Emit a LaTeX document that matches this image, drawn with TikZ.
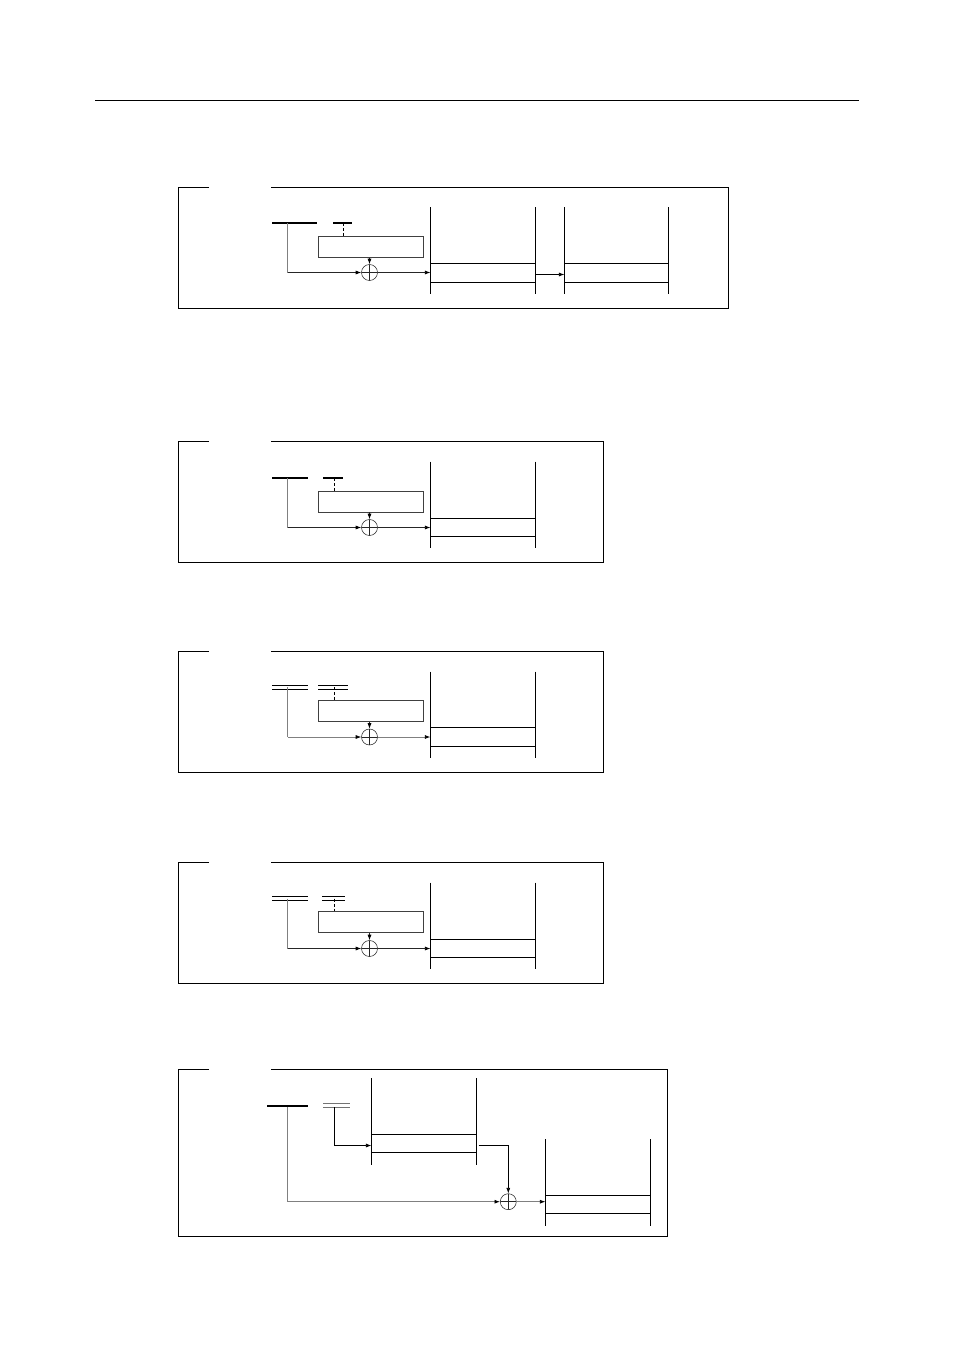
\documentclass[tikz,border=0pt]{standalone}
\usepackage{amsmath}
\usepackage{tikz}
\usetikzlibrary{arrows.meta}
\tikzset{
	framepath/.style={black, line width=0.8pt},
	stackline/.style={black, line width=0.8pt},
	feedline/.style={black!85, line width=0.7pt},
	feedfaint/.style={black!50, line width=0.8pt},
	slotbox/.style={draw=black, line width=0.7pt, inner sep=0pt, minimum width=104.5pt, minimum height=19pt},
	tablebox/.style={draw=black!75, line width=0.7pt, inner sep=0pt, minimum width=105pt, minimum height=21pt},
	xorsign/.style={draw=black!85, circle, line width=0.55pt, inner sep=0pt, minimum size=16pt,
		path picture={\draw[black!85, line width=0.55pt] (path picture bounding box.north) -- (path picture bounding box.south);
			\draw[black!85, line width=0.55pt] (path picture bounding box.west) -- (path picture bounding box.east);}},
	onebar/.style={fill=black, inner sep=0pt, minimum height=2pt},
	twobar/.style={inner sep=0pt, minimum height=3.4pt,
		path picture={\draw[black, line width=0.8pt] (path picture bounding box.north west) -- (path picture bounding box.north east);
			\draw[black, line width=0.8pt] (path picture bounding box.south west) -- (path picture bounding box.south east);}},
	greybar/.style={twobar, opacity=0.55},
}

\begin{document}
\begin{tikzpicture}[x=1pt,y=-1pt,>={Latex[black,length=5.5pt,width=4pt]}]
		\useasboundingbox (0,0) rectangle (954,1348);
		\coordinate (ruleL) at (95,100);
		\coordinate (ruleR) at (859,100);
		\draw[black, line width=0.6pt] (ruleL) -- (ruleR);
		% four frames with one table each
		\foreach \n/\dy/\rgt/\bara/\wa/\barb/\wb/\kind/\tap/\by/\xy/\ty/\sh/\feedstyle in {
			a/0/728.5/294.5/45/342.5/19/onebar/343.5/222.8/272.5/246.8/19/feedline,
			b/254/603.5/290/36/333/20/onebar/334.5/224/273.5/247.6/18/feedline,
			c/464/603.5/290/36/333/30/twobar/334.5/223.3/273/247/19/feedfaint,
			d/675/603.5/290/36/333.5/23/twobar/334.5/223.5/273.5/247.2/18/feedline}{
			\begin{scope}[yshift=-\dy pt]
				\draw[framepath] (209,187.5) -- (178.5,187.5) -- (178.5,308.5) -- (\rgt,308.5) -- (\rgt,187.5) -- (271,187.5);
				\node[\kind, minimum width=\wa pt] (bar\n) at (\bara,\by) {};
				\node[\kind, minimum width=\wb pt] (sel\n) at (\barb,\by) {};
				\coordinate (tap\n) at (\tap,\by);
				\node[tablebox] (table\n) at (370.8,\ty) {};
				\node[xorsign] (xor\n) at (369.5,\xy) {};
				\node[slotbox, minimum height=\sh pt] (slot\n) at (483,273) {};
				\coordinate (topL\n) at (430.5,207.5);
				\coordinate (botL\n) at (430.5,294);
				\coordinate (topR\n) at (535.5,207.5);
				\coordinate (botR\n) at (535.5,294);
				\draw[stackline] (topL\n) -- (botL\n);
				\draw[stackline] (topR\n) -- (botR\n);
				\draw[black, line width=0.7pt, dashed, dash pattern=on 3pt off 2pt] (tap\n) -- (tap\n |- table\n.north);
				\draw[black!85, line width=0.7pt,->] (xor\n |- table\n.south) -- (xor\n.north);
				\coordinate (feed\n) at (287.7,\by);
				\coordinate (bend\n) at (287.7,\xy);
				\draw[feedfaint] (feed\n) -- (bend\n);
				\draw[\feedstyle,->] (bend\n) -- (xor\n.west);
				\draw[\feedstyle,->] (xor\n.east) -- (xor\n.east -| slot\n.west);
			\end{scope}
		}
		% second table of the first frame
		\node[slotbox, minimum width=103.5pt] (slote) at (616.5,273) {};
		\coordinate (topLe) at (564.5,207.5);
		\coordinate (botLe) at (564.5,294);
		\coordinate (topRe) at (668.5,207.5);
		\coordinate (botRe) at (668.5,294);
		\coordinate (linkf) at (535.5,274.5);
		\draw[stackline] (topLe) -- (botLe);
		\draw[stackline] (topRe) -- (botRe);
		\draw[black, line width=0.7pt,->] (linkf) -- (linkf -| slote.west);
		% last frame, two tables in a row
		\draw[framepath] (209,1069.5) -- (178.5,1069.5) -- (178.5,1236.5) -- (667.5,1236.5) -- (667.5,1069.5) -- (271,1069.5);
		\node[onebar, minimum width=41pt] (barf) at (287.5,1105.7) {};
		\node[greybar, minimum width=27pt] (self) at (336.5,1105.3) {};
		\node[slotbox, minimum height=18pt] (slotf) at (424,1143.5) {};
		\node[slotbox, minimum height=18pt] (slotg) at (598,1204.5) {};
		\node[xorsign] (xorf) at (508.3,1201.7) {};
		\coordinate (topLf) at (371.5,1078);
		\coordinate (botLf) at (371.5,1165);
		\coordinate (topRf) at (476.5,1078);
		\coordinate (botRf) at (476.5,1165);
		\coordinate (topLg) at (545.5,1139);
		\coordinate (botLg) at (545.5,1225.5);
		\coordinate (topRg) at (650.5,1139);
		\coordinate (botRg) at (650.5,1225.5);
		\coordinate (tapf) at (334.5,1107);
		\coordinate (feedf) at (287.7,1107);
		\coordinate (outf) at (478.5,1145.5);
		\draw[stackline] (topLf) -- (botLf);
		\draw[stackline] (topRf) -- (botRf);
		\draw[stackline] (topLg) -- (botLg);
		\draw[stackline] (topRg) -- (botRg);
		\draw[black, line width=0.7pt,->] (tapf) |- (outf -| slotf.west);
		\draw[black, line width=0.7pt,->] (outf) -| (xorf.north);
		\draw[feedfaint,->] (feedf) |- (xorf.west);
		\draw[feedfaint,->] (xorf.east) -- (xorf.east -| slotg.west);
\end{tikzpicture}
\end{document}
